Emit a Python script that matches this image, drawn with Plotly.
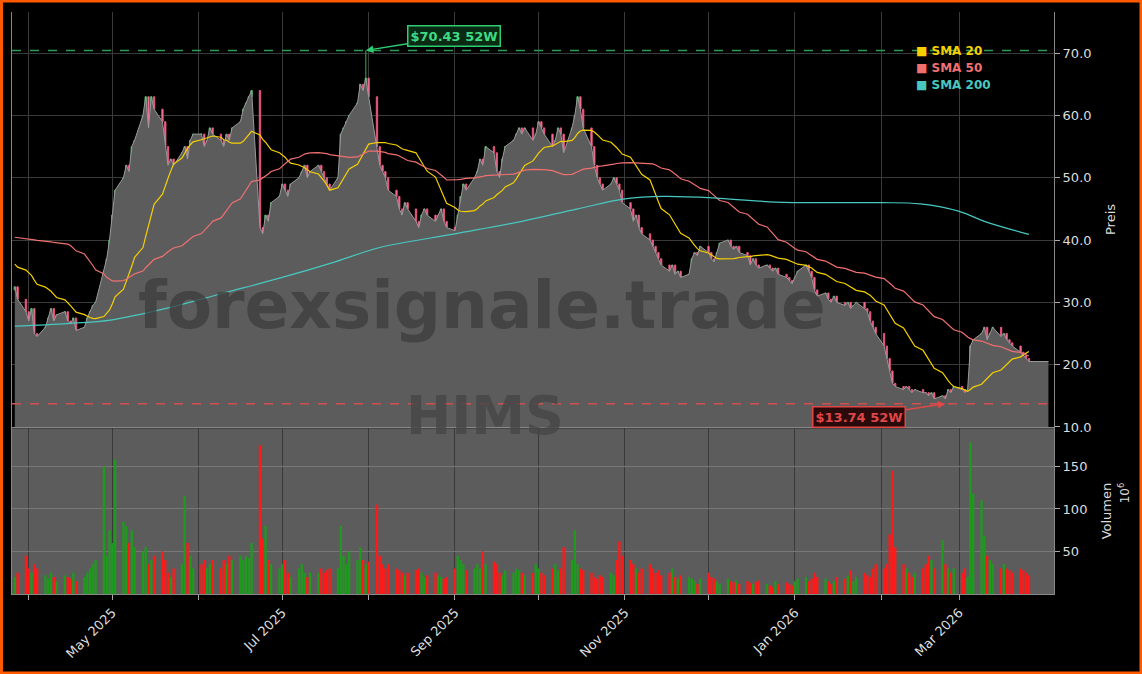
import pandas as pd
import plotly.graph_objects as go

# ---- data (USD / millions) ----
start_date = "2025-03-27"
closes = [32.5, 30.5,
 28.5, 27, 29, 25, 24.5,
 26, 27.5, 29, 27, 28,
 28.5, 27, 26.5, 27.5, 25.5,
 26, 27.5, 28.5, 29.5, 30,
 35, 37, 40, 44, 48,
 50, 52, 51, 55, 56,
 60, 63, 58, 63, 61,
 59, 55, 52, 53, 52,
 54, 55, 53, 56, 57,
 57, 55, 56, 58, 57,
 56, 55, 57, 56, 58,
 59, 61, 62, 63, 64,
 42, 41, 44, 43, 46,
 47, 49, 48, 47, 49,
 50, 51, 52, 50, 51,
 52, 51, 50, 49, 48,
 50, 57, 58, 59, 60,
 62, 65, 64, 66, 63,
 55, 52, 51, 50, 48,
 47, 45, 44, 46, 45,
 43, 42, 44, 45, 44,
 43, 44, 45, 43, 42,
 41.5, 44, 47, 49, 48,
 50, 51, 53, 52, 55,
 54, 51, 50, 53, 55,
 56, 57, 58, 57, 58,
 56, 57, 59, 58, 57,
 55, 56, 58, 57, 54,
 58, 60, 63, 61, 58,
 55, 52, 50, 49, 48,
 49, 50, 49, 48, 46,
 45, 43, 44, 42, 41,
 40, 39, 38, 37, 36,
 35, 36, 34.5, 35, 34,
 34.5, 37, 38, 37.5, 39,
 38, 37, 36.5, 38, 39.5,
 40, 39, 38.5, 39, 38,
 37.5, 36, 37, 36, 35.5,
 36, 35.5, 35, 35.5, 34.5,
 34, 33.5, 33, 34, 35,
 36, 35, 34, 32, 31,
 31.5, 30.5, 30, 31, 30,
 29.5, 30, 29, 29.5, 30,
 29, 28.5, 27, 26, 25,
 23, 21, 19, 17, 16.5,
 16, 16.5, 16, 15.5, 16,
 15.5, 15.5, 15, 15.5, 14.5,
 15, 14.5, 16, 15.5, 16.5,
 16, 15.5, 16, 23, 24,
 25, 26, 24, 25, 26,
 24.5, 25, 24, 23.5, 23,
 22, 21.5, 21, 20.5]

volumes = [20, 25,
 45, 30, 25, 35, 30,
 22, 18, 25, 20, 15,
 22, 20, 18, 25, 15,
 20, 25, 30, 35, 40,
 150, 45, 75, 60, 158,
 85, 80, 60, 75, 55,
 50, 55, 35, 40, 45,
 50, 40, 25, 20, 30,
 35, 115, 60, 45, 30,
 35, 40, 30, 35, 40,
 30, 40, 35, 45, 40,
 45, 40, 45, 42, 60,
 175, 65, 80, 40, 35,
 30, 35, 40, 25, 20,
 30, 35, 25, 20, 25,
 25, 30, 25, 28, 30,
 30, 80, 45, 35, 50,
 40, 55, 40, 35, 38,
 105, 45, 35, 30, 35,
 30, 28, 25, 22, 25,
 28, 30, 25, 20, 22,
 25, 22, 20, 18, 20,
 30, 45, 40, 35, 28,
 30, 35, 30, 50, 35,
 38, 35, 25, 22, 28,
 25, 30, 28, 25, 22,
 25, 35, 30, 25, 22,
 30, 35, 28, 30, 55,
 40, 75, 35, 30, 28,
 25, 20, 18, 22, 20,
 25, 22, 40, 62, 45,
 40, 35, 30, 25, 30,
 35, 30, 25, 28, 22,
 25, 30, 20, 18, 22,
 20, 18, 15, 12, 18,
 25, 20, 18, 15, 12,
 18, 15, 14, 16, 12,
 15, 13, 12, 14, 16,
 12, 10, 8, 15, 12,
 14, 12, 10, 15, 18,
 20, 15, 18, 25, 20,
 18, 15, 12, 15, 20,
 18, 22, 28, 15, 20,
 25, 22, 20, 30, 35,
 30, 35, 70, 145, 55,
 35, 30, 25, 20, 25,
 30, 35, 45, 40, 30,
 63, 35, 30, 25, 30,
 25, 30, 20, 178, 118,
 110, 68, 45, 40, 35,
 30, 35, 30, 28, 25,
 30, 28, 25, 22]

# closes before the visible window (Jan-Mar 2025), only for the moving averages
prior_closes = [24, 25, 27, 28, 27, 29, 30, 31, 30, 32, 33, 34, 33, 31, 30, 29, 30, 31, 33, 32, 30,
 32, 35, 38, 45, 50, 52, 55, 60, 62, 65, 68, 64, 58, 55, 50, 45, 42, 40, 38, 40,
 38, 36, 37, 40, 38, 35, 34, 36, 37, 38, 36, 35, 37, 38, 36, 34, 33, 32]

sma200_dates = ["2025-03-27", "2025-04-15", "2025-05-01", "2025-05-20", "2025-06-10", "2025-07-01",
 "2025-07-20", "2025-08-05", "2025-09-01", "2025-09-25", "2025-10-15", "2025-11-01", "2025-11-15",
 "2025-12-05", "2025-12-25", "2026-01-15", "2026-02-01", "2026-02-15", "2026-03-01", "2026-03-10", "2026-03-26"]
sma200_vals = [26.2, 26.6, 27.2, 29.0, 31.5, 34.0, 36.5, 38.8, 41.0, 43.0, 45.0, 46.6, 47.0,
 46.7, 46.1, 46.0, 46.0, 45.8, 44.6, 43.0, 40.9]

high_52w = 70.43
high_52w_date = "2025-07-31"
low_52w = 13.74
low_52w_date = "2026-02-24"
area_tail_date = "2026-04-02"

# ---- derived ----
dates = pd.bdate_range(start_date, periods=len(closes))
s = pd.Series(prior_closes + closes)
sma20 = s.rolling(20).mean().iloc[len(prior_closes):].values
sma50 = s.rolling(50, min_periods=40).mean().iloc[len(prior_closes):].values
opens = [prior_closes[-1]] + closes[:-1]
highs = [max(o, c) for o, c in zip(opens, closes)]
lows = [min(o, c) for o, c in zip(opens, closes)]
ds = [d.strftime("%Y-%m-%d") for d in dates]
highs[ds.index(high_52w_date)] = high_52w
lows[ds.index(low_52w_date)] = low_52w
vcol = ["#1f9a1f" if c > o else "#ff1a1a" for o, c in zip(opens, closes)]

fig = go.Figure()
fig.add_trace(go.Scatter(x=list(dates) + [pd.Timestamp(area_tail_date)], y=closes + [closes[-1]],
                         fill="tozeroy", fillcolor="#5c5c5c", line=dict(color="#9a9a9a", width=1),
                         mode="lines", hoverinfo="skip", yaxis="y"))
fig.add_trace(go.Candlestick(x=dates, open=opens, high=highs, low=lows, close=closes,
                             increasing=dict(line=dict(color="#3fae5a", width=1), fillcolor="#8fe0a0"),
                             decreasing=dict(line=dict(color="#e0507a", width=1), fillcolor="#ff8fae"),
                             whiskerwidth=0, yaxis="y"))
fig.add_trace(go.Scatter(x=dates, y=sma20, mode="lines", line=dict(color="#f5d000", width=1.2), yaxis="y"))
fig.add_trace(go.Scatter(x=dates, y=sma50, mode="lines", line=dict(color="#f07070", width=1.2), yaxis="y"))
fig.add_trace(go.Scatter(x=pd.to_datetime(sma200_dates), y=sma200_vals, mode="lines",
                         line=dict(color="#48c8c0", width=1.2, shape="spline"), yaxis="y"))
fig.add_trace(go.Bar(x=dates, y=volumes, marker=dict(color=vcol, line=dict(width=0)), yaxis="y2"))

months = pd.date_range("2025-04-01", "2026-03-01", freq="MS")
ticktext = [m.strftime("%b %Y") if m.month % 2 == 1 else "" for m in months]

grid = "#3a3a3a"
fig.update_layout(
    width=1142, height=674, paper_bgcolor="#000", plot_bgcolor="#000",
    margin=dict(l=12, r=88, t=12, b=80), showlegend=False, bargap=0.15,
    font=dict(family="DejaVu Sans", color="#dddddd", size=13),
    xaxis=dict(type="date", range=["2025-03-26", "2026-04-04"], tickvals=months, ticktext=ticktext,
               tickangle=-45, showgrid=True, gridcolor=grid, ticks="outside", tickcolor="#aaa",
               rangeslider=dict(visible=False), anchor="y2", showline=True, linecolor="#888",
               mirror=True, automargin=False),
    yaxis=dict(domain=[0.287, 1], range=[10, 76.6], side="right", tickvals=[10, 20, 30, 40, 50, 60, 70],
               ticktext=["10.0", "20.0", "30.0", "40.0", "50.0", "60.0", "70.0"], showgrid=True,
               gridcolor=grid, ticks="outside", tickcolor="#aaa", showline=True, linecolor="#888",
               mirror=True, title=dict(text="Preis", font=dict(size=13)), zeroline=False,
               automargin=False),
    yaxis2=dict(domain=[0, 0.285], range=[0, 195], side="right", tickvals=[50, 100, 150],
                showgrid=True, gridcolor="#777", ticks="outside", tickcolor="#aaa", showline=True,
                linecolor="#888", mirror=True, title=dict(text="Volumen", font=dict(size=13)),
                zeroline=False, automargin=False),
)
fig.add_shape(type="rect", xref="x domain", yref="y2 domain", x0=0, x1=1, y0=0, y1=1,
              fillcolor="#5c5c5c", line=dict(width=0), layer="below")
fig.add_shape(type="line", xref="x domain", yref="y", x0=0, x1=1, y0=high_52w, y1=high_52w,
              line=dict(color="#2e9a5a", width=1.5, dash="dash"))
fig.add_shape(type="line", xref="x domain", yref="y", x0=0, x1=1, y0=low_52w, y1=low_52w,
              line=dict(color="#d05050", width=1.5, dash="dash"))
fig.add_shape(type="rect", xref="paper", yref="paper", x0=-0.0101, x1=1.0835, y0=-0.1357, y1=1.0189,
              line=dict(color="#ff5a00", width=3), fillcolor="rgba(0,0,0,0)")

fig.add_annotation(x=high_52w_date, y=high_52w, xref="x", yref="y", text="<b>$70.43 52W</b>",
                   ax=88, ay=-14, showarrow=True, arrowcolor="#2ecc71", arrowhead=2, arrowwidth=1.5,
                   font=dict(color="#3ddc84", size=13), bgcolor="#0a2a14", bordercolor="#2ecc71",
                   borderwidth=1.5, borderpad=2)
fig.add_annotation(x=low_52w_date, y=low_52w, xref="x", yref="y", text="<b>$13.74 52W</b>",
                   ax=-86, ay=13, showarrow=True, arrowcolor="#e04848", arrowhead=2, arrowwidth=1.5,
                   font=dict(color="#e04848", size=13), bgcolor="#2a0a0a", bordercolor="#e04848",
                   borderwidth=1.5, borderpad=2)
for i, (t, c) in enumerate([("SMA 20", "#f5d000"), ("SMA 50", "#f07070"), ("SMA 200", "#48c8c0")]):
    fig.add_annotation(xref="paper", yref="paper", x=0.866, y=0.948 - i * 0.029, xanchor="left",
                       text=f"<b><span style='color:{c}'>■</span> {t}</b>", showarrow=False,
                       font=dict(color=c, size=12))
fig.add_annotation(xref="paper", yref="paper", x=0.451, y=0.495, text="<b>forexsignale.trade</b>",
                   showarrow=False, font=dict(size=66, color="rgba(60,60,60,0.75)"))
fig.add_annotation(xref="paper", yref="paper", x=0.454, y=0.25, text="<b>HIMS</b>",
                   showarrow=False, font=dict(size=54, color="rgba(70,70,70,0.8)"))
fig.add_annotation(xref="paper", yref="paper", x=1.077, y=0.152, text="10<sup>6</sup>",
                   textangle=-90, showarrow=False, font=dict(size=12, color="#dddddd"))

fig.write_html("out.html", config={"displayModeBar": False},
               post_script="document.body.style.margin='0';document.body.style.overflow='hidden';")
